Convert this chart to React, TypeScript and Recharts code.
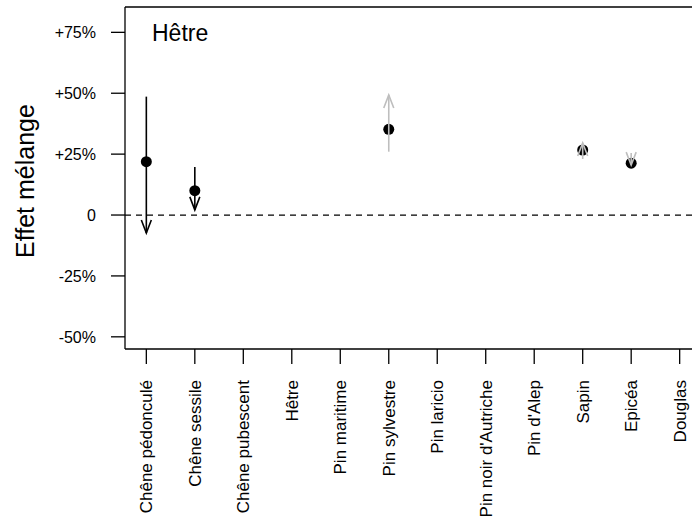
import { ComposedChart, XAxis, YAxis, Scatter, Line, ReferenceLine } from 'recharts'

// species along the x axis (1..12)
const species = [
  'Chêne pédonculé', 'Chêne sessile', 'Chêne pubescent', 'Hêtre', 'Pin maritime',
  'Pin sylvestre', 'Pin laricio', "Pin noir d'Autriche", "Pin d'Alep", 'Sapin', 'Epicéa', 'Douglas',
]
// mixing effect (%) — point estimate
const effect = [21.9, 10.0, null, null, null, 35.2, null, null, null, 26.7, 21.3, null]
// arrow start / arrow tip (%)
const arrowFrom = [48.6, 19.7, null, null, null, 26.0, null, null, null, 23.0, 25.5, null]
const arrowTo = [-7.4, 2.1, null, null, null, 49.3, null, null, null, 29.6, 20.5, null]
// significant shifts drawn in black, others in grey
const significant = [true, true, false, false, false, false, false, false, false, false, false, false]

const yTicks = [-50, -25, 0, 25, 50, 75]
const xTicks = species.map((_, i) => i + 1)
const Y_MIN = -55
const Y_MAX = 85.4

const FONT = '"Liberation Sans", Arial, sans-serif'

const points = species
  .map((name, i) => ({ x: i + 1, y: effect[i], name }))
  .filter(p => p.y != null)

const arrows = species
  .map((name, i) => ({
    name,
    color: significant[i] ? '#000000' : '#bebebe',
    data: [{ x: i + 1, y: arrowFrom[i] }, { x: i + 1, y: arrowTo[i] }],
  }))
  .filter(a => a.data[0].y != null)

function yFmt(v: number) {
  if (v === 0) return '0'
  return v > 0 ? `+${v}%` : `${v}%`
}

function XTick({ x, y, payload }: any) {
  const tx = x + 6
  const ty = y + 16
  return (
    <text
      x={tx} y={ty}
      transform={`rotate(-90 ${tx} ${ty})`}
      textAnchor="end"
      style={{ fontSize: 17, fontFamily: FONT }}
      fill="#000"
    >
      {species[payload.value - 1]}
    </text>
  )
}

function YTick({ x, y, payload }: any) {
  return (
    <text
      x={x} y={y + 6}
      textAnchor="end"
      style={{ fontSize: 16, fontFamily: FONT }}
      fill="#000"
    >
      {yFmt(payload.value)}
    </text>
  )
}

function arrowHead(color: string) {
  return (props: any) => {
    const { cx, cy, index, points: pts } = props
    if (index !== 1 || !pts) return <g key={`h${index}`} />
    const up = pts[1].y < pts[0].y
    const d = up ? 13 : -13
    return (
      <path
        key={`h${index}`}
        d={`M${cx - 5},${cy + d} L${cx},${cy} L${cx + 5},${cy + d}`}
        stroke={color} strokeWidth={1.6} fill="none"
      />
    )
  }
}

export default function App() {
  return (
    <div style={{ position: 'absolute', left: 0, top: 0, width: 692, height: 519, overflow: 'hidden', background: '#fff' }}>
      <ComposedChart width={710} height={519} margin={{ top: 7, right: 9, bottom: 0, left: 0 }}>
        <XAxis
          type="number" dataKey="x"
          domain={[0.56, 12.44]} ticks={xTicks} interval={0}
          allowDataOverflow
          height={170}
          tickSize={15} tickMargin={0}
          axisLine={{ stroke: '#000', strokeWidth: 1.3 }}
          tickLine={{ stroke: '#000', strokeWidth: 1.3 }}
          tick={<XTick />}
        />
        <YAxis
          type="number" dataKey="y"
          domain={[Y_MIN, Y_MAX]} ticks={yTicks} allowDataOverflow
          width={125}
          tickSize={14} tickMargin={15}
          axisLine={{ stroke: '#000', strokeWidth: 1.3 }}
          tickLine={{ stroke: '#000', strokeWidth: 1.3 }}
          tick={<YTick />}
        />
        <ReferenceLine y={Y_MAX} stroke="#000" strokeWidth={1.3} />
        <ReferenceLine y={0} stroke="#000" strokeWidth={1.3} strokeDasharray="6 5" />
        <Scatter
          data={points}
          fill="#000"
          isAnimationActive={false}
          zIndex={500}
          shape={(p: any) => <circle cx={p.cx} cy={p.cy} r={5.5} fill="#000" />}
        />
        {arrows.map(a => (
          <Line
            key={a.name}
            data={a.data}
            dataKey="y"
            type="linear"
            stroke={a.color}
            strokeWidth={1.6}
            dot={arrowHead(a.color)}
            activeDot={false}
            isAnimationActive={false}
            zIndex={700}
          />
        ))}
      </ComposedChart>
      <svg width={692} height={519} style={{ position: 'absolute', left: 0, top: 0, pointerEvents: 'none' }}>
        <text x={152} y={41} style={{ fontSize: 23, fontFamily: FONT }} fill="#000">Hêtre</text>
        <text
          x={34} y={181}
          transform="rotate(-90 34 181)"
          textAnchor="middle"
          style={{ fontSize: 25, fontFamily: FONT }}
          fill="#000"
        >
          Effet mélange
        </text>
      </svg>
    </div>
  )
}
